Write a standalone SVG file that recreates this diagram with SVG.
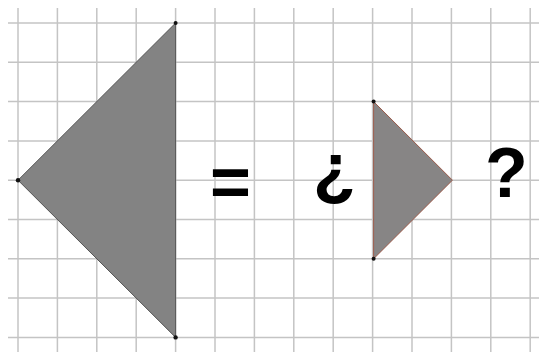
<svg xmlns="http://www.w3.org/2000/svg" width="539" height="356" viewBox="0 0 539 356">
<defs>
<style>
.grid line{stroke:#c4c4c4;stroke-width:1.5}
.tri{fill:#838383;stroke:#555;stroke-width:1}
.tri2{fill:#878585;stroke:#9a5a4a;stroke-width:1}
.dot{fill:#111}
.sym{font-family:"Liberation Sans",Arial,sans-serif;font-weight:bold;font-size:70px;fill:#000}
</style>
</defs>
<rect width="539" height="356" fill="#fff"/>
<g class="grid" id="grid">
<line x1="18" y1="8" x2="18" y2="352"/>
<line x1="57.4" y1="8" x2="57.4" y2="352"/>
<line x1="96.8" y1="8" x2="96.8" y2="352"/>
<line x1="136.2" y1="8" x2="136.2" y2="352"/>
<line x1="175.6" y1="8" x2="175.6" y2="352"/>
<line x1="215" y1="8" x2="215" y2="352"/>
<line x1="254.4" y1="8" x2="254.4" y2="352"/>
<line x1="293.8" y1="8" x2="293.8" y2="352"/>
<line x1="333.2" y1="8" x2="333.2" y2="352"/>
<line x1="372.6" y1="8" x2="372.6" y2="352"/>
<line x1="412" y1="8" x2="412" y2="352"/>
<line x1="451.4" y1="8" x2="451.4" y2="352"/>
<line x1="490.8" y1="8" x2="490.8" y2="352"/>
<line x1="530.2" y1="8" x2="530.2" y2="352"/>
<line x1="8" y1="23" x2="539" y2="23"/>
<line x1="8" y1="62.3" x2="539" y2="62.3"/>
<line x1="8" y1="101.6" x2="539" y2="101.6"/>
<line x1="8" y1="140.9" x2="539" y2="140.9"/>
<line x1="8" y1="180.2" x2="539" y2="180.2"/>
<line x1="8" y1="219.5" x2="539" y2="219.5"/>
<line x1="8" y1="258.8" x2="539" y2="258.8"/>
<line x1="8" y1="298.1" x2="539" y2="298.1"/>
<line x1="8" y1="337.4" x2="539" y2="337.4"/>
</g>
<g id="big-triangle">
<polygon class="tri" points="175.6,23 18,180.2 175.6,337.4"/>
<circle class="dot" cx="175.6" cy="23" r="2"/>
<circle class="dot" cx="18" cy="180.2" r="2.2"/>
<circle class="dot" cx="175.6" cy="337.4" r="2.2"/>
</g>
<g id="small-triangle">
<polygon class="tri2" points="373.6,101.6 452.4,180.2 373.6,258.8"/>
<circle class="dot" cx="373.6" cy="101.6" r="2"/>
<circle class="dot" cx="373.6" cy="258.8" r="2"/>
</g>
<g id="equals"><text class="sym" x="210" y="206">=</text></g>
<g id="inv-q"><text class="sym" x="313" y="192">¿</text></g>
<g id="q"><text class="sym" x="485" y="197">?</text></g>
</svg>
